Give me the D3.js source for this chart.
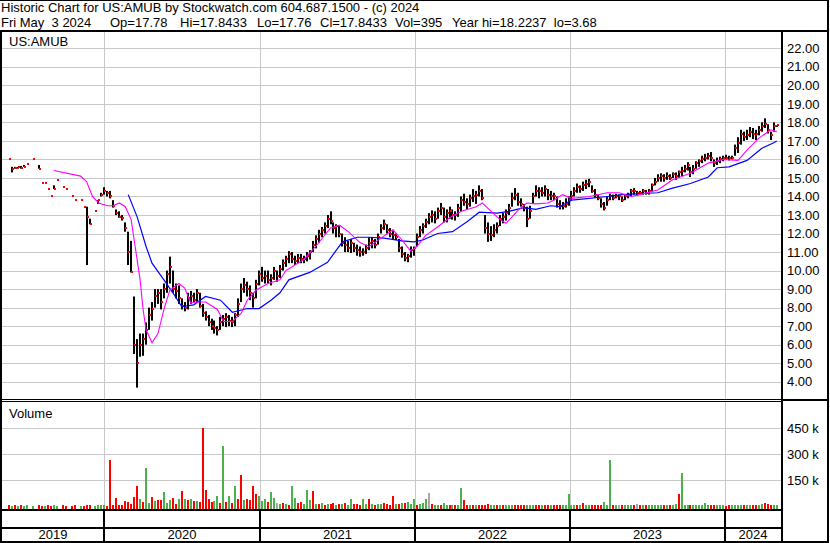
<!DOCTYPE html>
<html>
<head>
<meta charset="utf-8">
<script src="https://cdn.jsdelivr.net/npm/d3@7"></script>
<style>
  body { margin: 0; background: #fff; }
  svg { display: block; font-family: 'Liberation Sans', Arial, sans-serif; font-size: 13px; }
  text { white-space: pre; fill: #000; }
</style>
</head>
<body>
<svg id="chart"></svg>
<script>
// Weekly bars, first bar is the week of 2019-05-08
var firstWeek = '2019-05-08'
var titleLine = 'Historic Chart for US:AMUB by Stockwatch.com 604.687.1500 - (c) 2024'
var quoteFields = ['Fri May  3 2024', 'Op=17.78', 'Hi=17.8433', 'Lo=17.76', 'Cl=17.8433', 'Vol=395', 'Year hi=18.2237  lo=3.68']
var symbol = 'US:AMUB'

var priceTicks = [4, 5, 6, 7, 8, 9, 10, 11, 12, 13, 14, 15, 16, 17, 18, 19, 20, 21, 22]
var volumeTicks = [150, 300, 450]
var years = [2019, 2020, 2021, 2022, 2023, 2024]

var weekHigh = [
  null, null, 16.0, 15.6, 15.6, 15.6, 15.65, 15.7, 15.75, null,
  16.0, null, 15.7, 14.75, 14.75, 14.4, 14.05, 14.6, 14.9, null,
  14.5, 14.4, null, 14.0, 13.8, null, 13.8, 13.45, 13.45, 12.8,
  null, 13.2, 13.8, 14.2, 14.5, 14.3, 14.3, 13.8, 13.3, 13.2,
  13.0, 12.6, 12.1, 11.6, 8.6, 6.3, 6.6, 6.6, 7.2, 8.0,
  8.3, 9.0, 9.0, 9.0, 9.3, 10.0, 10.75, 10.0, 9.3, 9.2,
  8.5, 8.3, 8.8, 8.9, 8.8, 9.0, 8.8, 8.2, 7.8, 7.6,
  7.4, 7.3, 7.0, 7.5, 7.6, 7.7, 7.6, 7.5, 7.7, 8.5,
  9.3, 9.6, 9.4, 9.2, 8.8, 9.5, 10.0, 10.2, 10.0, 10.0,
  9.8, 10.2, 10.0, 10.3, 10.6, 10.8, 11.05, 11.0, 10.8, 10.9,
  10.9, 10.8, 11.0, 11.1, 11.6, 11.9, 12.2, 12.35, 12.6, 13.0,
  13.2, 12.6, 12.5, 12.4, 12.0, 11.8, 11.6, 11.7, 11.5, 11.4,
  11.3, 11.2, 11.4, 11.8, 11.8, 11.7, 12.0, 12.5, 12.75, 12.5,
  12.3, 12.2, 12.0, 11.7, 11.3, 11.0, 10.9, 11.3, 11.3, 12.0,
  12.4, 12.55, 12.8, 13.1, 13.25, 13.2, 13.4, 13.65, 13.4, 13.3,
  13.45, 13.3, 13.2, 13.6, 14.0, 14.15, 13.9, 14.1, 14.4, 14.3,
  14.6, 14.4, 13.0, 12.6, 12.4, 12.5, 12.6, 13.0, 13.1, 13.3,
  13.6, 14.2, 14.45, 14.2, 13.9, 13.6, 13.45, 13.5, 14.2, 14.6,
  14.5, 14.5, 14.6, 14.4, 14.3, 14.2, 14.0, 13.8, 13.7, 13.9,
  14.0, 14.3, 14.5, 14.7, 14.6, 14.8, 14.9, 14.95, 14.6, 14.4,
  14.1, 13.9, 13.7, 14.0, 14.15, 14.1, 14.15, 14.1, 14.0, 14.1,
  14.2, 14.4, 14.45, 14.3, 14.3, 14.4, 14.35, 14.4, 14.7, 15.0,
  15.2, 15.25, 15.2, 15.3, 15.2, 15.3, 15.3, 15.4, 15.6, 15.7,
  15.85, 15.6, 15.7, 15.9, 16.0, 16.2, 16.3, 16.35, 16.4, 16.0,
  16.1, 16.15, 16.2, 16.25, 16.2, 16.2, 16.8, 17.2, 17.6, 17.5,
  17.6, 17.75, 17.7, 17.6, 17.8, 18.0, 18.22, 17.9, 17.5, 18.0,
  17.84
]
var weekLow = [
  null, null, 16.0, 15.3, 15.5, 15.5, 15.5, 15.6, 15.75, null,
  16.0, null, 15.5, 14.75, 14.75, 14.4, 14.05, 14.4, 14.9, null,
  14.5, 14.4, null, 14.0, 13.8, null, 13.8, 13.45, 10.3, 12.5,
  null, 13.2, 13.6, 14.0, 14.1, 14.0, 13.9, 13.4, 13.0, 12.85,
  12.7, 12.1, 10.3, 9.9, 5.5, 3.68, 5.35, 5.4, 6.0, 6.8,
  7.3, 8.0, 8.2, 7.9, 8.5, 8.8, 9.3, 8.8, 8.5, 8.2,
  7.9, 7.8, 7.9, 8.2, 8.3, 8.3, 8.0, 7.5, 7.3, 7.0,
  6.8, 6.6, 6.5, 6.8, 7.0, 6.95, 7.0, 6.95, 7.0, 7.5,
  8.3, 8.8, 8.6, 8.4, 8.0, 8.5, 9.2, 9.4, 9.3, 9.3,
  9.2, 9.5, 9.4, 9.6, 10.0, 10.2, 10.4, 10.4, 10.3, 10.4,
  10.4, 10.4, 10.5, 10.6, 11.0, 11.2, 11.5, 11.8, 12.0, 12.3,
  12.5, 12.0, 11.8, 11.8, 11.3, 11.0, 11.0, 10.95, 11.0, 10.8,
  10.75, 10.8, 10.9, 11.1, 11.2, 11.2, 11.4, 12.0, 12.2, 12.0,
  11.8, 11.7, 11.65, 11.0, 10.7, 10.5, 10.45, 10.7, 10.8, 11.3,
  11.8, 12.0, 12.3, 12.5, 12.6, 12.55, 12.8, 13.0, 12.6, 12.6,
  12.8, 12.75, 12.7, 12.9, 13.2, 13.5, 13.3, 13.45, 13.7, 13.6,
  14.0, 13.8, 12.0, 11.55, 11.6, 11.8, 12.0, 12.4, 12.55, 12.7,
  13.0, 13.45, 13.8, 13.5, 13.45, 13.2, 12.35, 12.8, 13.6, 14.0,
  13.9, 14.0, 14.0, 13.8, 13.8, 13.8, 13.4, 13.3, 13.3, 13.4,
  13.5, 13.8, 14.0, 14.2, 14.2, 14.3, 14.4, 14.5, 14.2, 13.95,
  13.8, 13.4, 13.25, 13.5, 13.8, 13.8, 13.9, 13.8, 13.7, 13.8,
  13.9, 14.0, 14.1, 14.05, 14.1, 14.1, 14.1, 14.1, 14.3, 14.6,
  14.8, 14.8, 14.8, 14.9, 14.9, 15.0, 14.9, 15.0, 15.1, 15.3,
  15.4, 15.05, 15.2, 15.5, 15.6, 15.8, 15.9, 16.0, 15.9, 15.6,
  15.7, 15.8, 15.9, 16.0, 15.95, 16.0, 16.2, 16.35, 16.8, 17.0,
  17.05, 17.2, 17.1, 17.05, 17.3, 17.5, 17.7, 17.4, 17.05, 17.5,
  17.76
]
var weekClose = [
  null, null, 16.0, 15.5, 15.55, 15.6, 15.55, 15.6, 15.75, null,
  16.0, null, 15.5, 14.75, 14.75, 14.4, 14.05, 14.4, 14.9, null,
  14.5, 14.4, null, 14.0, 13.8, null, 13.8, 13.45, 12.9, 12.5,
  null, 13.2, 13.8, 14.1, 14.3, 14.2, 14.0, 13.5, 13.1, 12.9,
  12.85, 12.3, 11.0, 9.9, 6.0, 5.0, 6.0, 6.3, 6.8, 7.6,
  7.9, 8.6, 8.8, 8.3, 9.0, 9.8, 10.2, 9.0, 8.9, 8.5,
  8.1, 8.0, 8.5, 8.6, 8.4, 8.8, 8.1, 7.7, 7.5, 7.2,
  7.0, 6.9, 6.8, 7.2, 7.4, 7.5, 7.3, 7.2, 7.6, 8.2,
  9.0, 9.2, 9.0, 8.8, 8.5, 9.3, 9.8, 9.6, 9.7, 9.5,
  9.6, 10.0, 9.7, 10.1, 10.4, 10.6, 10.9, 10.6, 10.5, 10.7,
  10.6, 10.6, 10.8, 11.0, 11.4, 11.7, 12.0, 12.2, 12.4, 12.8,
  12.7, 12.3, 12.4, 12.0, 11.5, 11.4, 11.2, 11.5, 11.2, 11.1,
  11.0, 11.0, 11.2, 11.5, 11.6, 11.4, 11.8, 12.3, 12.5, 12.2,
  12.0, 11.9, 11.8, 11.2, 10.9, 10.7, 10.8, 11.1, 11.2, 11.8,
  12.2, 12.4, 12.6, 12.9, 13.0, 12.8, 13.2, 13.4, 12.9, 13.1,
  13.2, 13.0, 13.0, 13.4, 13.8, 13.7, 13.6, 13.9, 14.0, 14.1,
  14.3, 13.9, 12.3, 12.0, 11.9, 12.2, 12.4, 12.8, 12.9, 13.1,
  13.4, 13.9, 14.1, 13.7, 13.6, 13.4, 12.8, 13.2, 14.0, 14.3,
  14.3, 14.2, 14.4, 14.1, 14.0, 14.0, 13.6, 13.5, 13.5, 13.6,
  13.8, 14.0, 14.3, 14.5, 14.4, 14.6, 14.7, 14.8, 14.3, 14.1,
  13.9, 13.6, 13.4, 13.8, 14.0, 13.9, 14.0, 14.0, 13.8, 14.0,
  14.1, 14.3, 14.3, 14.2, 14.2, 14.3, 14.2, 14.3, 14.6, 14.8,
  15.0, 15.1, 15.0, 15.1, 15.0, 15.2, 15.1, 15.3, 15.4, 15.5,
  15.7, 15.3, 15.5, 15.8, 15.9, 16.0, 16.1, 16.2, 16.1, 15.8,
  15.9, 16.0, 16.1, 16.1, 16.1, 16.1, 16.6, 16.9, 17.4, 17.2,
  17.3, 17.5, 17.4, 17.4, 17.6, 17.8, 17.9, 17.6, 17.3, 17.8,
  17.84
]
// volume in thousands, with the bar colour side: u = up, d = down, f = unchanged
var weekVolume = [
  0, 0, 5, 4, 6, 3, 5, 4, 5, 0,
  4, 0, 5, 4, 3, 5, 4, 6, 4, 0,
  5, 3, 0, 4, 5, 0, 3, 4, 8, 5,
  0, 4, 5, 6, 5, 4, 270, 6, 50, 8,
  10, 30, 25, 15, 55, 120, 45, 25, 220, 20,
  55, 30, 35, 35, 85, 20, 35, 50, 15, 45,
  90, 40, 35, 45, 30, 30, 25, 450, 95, 40,
  25, 30, 60, 20, 350, 25, 60, 20, 120, 45,
  180, 35, 40, 35, 115, 70, 60, 30, 40, 25,
  80, 50, 20, 15, 20, 15, 10, 120, 50, 20,
  25, 15, 95, 35, 90, 15, 12, 18, 10, 15,
  12, 20, 10, 15, 12, 18, 10, 45, 12, 15,
  10, 40, 12, 40, 15, 10, 12, 15, 18, 12,
  10, 60, 12, 15, 20, 18, 25, 12, 40, 10,
  15, 20, 40, 75, 12, 8, 10, 8, 20, 6,
  8, 5, 6, 10, 105, 35, 8, 6, 5, 7,
  6, 8, 10, 12, 8, 6, 5, 7, 6, 5,
  6, 8, 5, 6, 7, 5, 8, 10, 6, 5,
  6, 5, 8, 6, 5, 7, 6, 5, 6, 8,
  70, 6, 5, 8, 10, 20, 6, 5, 7, 6,
  5, 8, 25, 10, 265, 6, 5, 7, 5, 6,
  5, 7, 6, 15, 6, 5, 8, 6, 5, 7,
  6, 5, 7, 6, 5, 8, 15, 70, 190, 6,
  5, 7, 6, 5, 8, 6, 20, 5, 6, 7,
  5, 6, 5, 4, 6, 5, 7, 8, 6, 5,
  6, 5, 7, 6, 8, 15, 20, 15, 8, 6,
  5
]
var weekVolumeSide = [
  'ffdududuuf', 'ufddudduuf', 'ddfddfuddd', 'fuuuuddddd', 'dddddduduu',
  'dudduuuddu', 'dudududddd', 'duudududud', 'dudddduuud', 'uufududuud',
  'duuudududu', 'ddududuudd', 'duududuudd', 'ddududuuud', 'uuufduuduu',
  'duduuddudu', 'dddduududu', 'uudddduuud', 'dudduddduu', 'uuududuudd',
  'dduuudufdu', 'uudfduduuu', 'uududuuduu', 'uduuuuuudd', 'uuudduuuud',
  'uudduudddu', 'u'
].join('')

// moving averages as drawn (week index, value)
var fastMaWeek = [17, 26, 28, 30, 32, 35, 37, 39, 41, 43, 44, 46, 47, 48, 50, 52, 54, 56, 59, 61,
  63, 65, 68, 72, 74, 77, 80, 82, 85, 89, 93, 95, 101, 105, 110, 113, 116, 120, 123, 127,
  131, 134, 137, 139, 142, 146, 150, 154, 159, 161, 164, 167, 169, 173, 176, 179, 183, 185, 188, 191,
  197, 203, 207, 211, 214, 220, 225, 231, 237, 242, 247, 250, 254, 258, 260]
var fastMaValue = [15.4, 15.1, 14.8, 14.0, 13.65, 13.5, 13.5, 13.65, 13.45, 12.75, 11.65, 9.5, 7.9, 6.8, 6.1, 6.6, 7.9, 8.95, 9.3, 9.05,
  8.25, 8.3, 8.3, 7.9, 7.25, 7.25, 7.7, 8.4, 8.95, 9.3, 9.5, 10.0, 10.6, 11.3, 12.3, 12.45, 12.1, 11.5, 11.3, 11.75,
  12.2, 11.65, 11.05, 11.3, 11.9, 12.35, 12.85, 13.2, 13.45, 13.65, 13.2, 12.75, 12.55, 13.25, 13.65, 13.6, 13.65, 13.8, 14.1, 13.9,
  14.0, 14.2, 14.2, 14.0, 14.1, 14.35, 14.9, 15.25, 15.8, 16.0, 15.95, 16.5, 17.15, 17.6, 17.5]
var slowMaWeek = [42, 45, 48, 50, 54, 57, 60, 64, 68, 73, 77, 82, 86, 90, 93, 96, 103, 109, 114, 119,
  123, 128, 134, 138, 141, 146, 151, 156, 160, 166, 170, 175, 179, 184, 187, 191, 197, 203, 208, 214,
  220, 225, 231, 237, 240, 244, 250, 255, 259, 260]
var slowMaValue = [14.1, 12.9, 11.3, 10.4, 9.5, 8.8, 8.05, 8.15, 8.6, 8.4, 7.75, 7.95, 7.95, 8.4, 8.8, 9.5, 9.9, 10.45, 11.55, 11.8,
  11.8, 11.75, 11.6, 11.55, 11.65, 12.0, 12.1, 12.65, 13.15, 13.1, 13.2, 13.4, 13.3, 13.5, 13.45, 13.8, 13.9, 14.0, 14.1, 14.15,
  14.2, 14.45, 14.7, 15.05, 15.55, 15.6, 15.95, 16.6, 16.9, 17.0]

;(function () {
  var WIDTH = 830
  var HEIGHT = 543
  var LEFT = 2
  var RIGHT = 781
  var PRICE_TOP = 32
  var PRICE_BOTTOM = 399
  var VOL_TOP = 402
  var VOL_BOTTOM = 509
  var GRID = '#c8c8c8'
  var sideColor = { u: '#4cb04c', d: '#ff0000', f: '#a8a8a8' }
  // left edges of the quote fields, as laid out in the header
  var quoteX = [1, 110, 180, 257, 320, 395, 452]

  var parse = d3.timeParse('%Y-%m-%d')
  var start = parse(firstWeek)
  function weekDate (i) { return d3.timeWeek.offset(start, i) }

  var x = d3.scaleTime()
    .domain([parse('2019-05-05'), parse('2024-05-11')])
    .range([LEFT, RIGHT])
  var yPrice = d3.scaleLinear().domain([4, 22]).range([381.7, 48.3])
  var yVol = d3.scaleLinear().domain([0, 450]).range([506.3, 428.3])

  var svg = d3.select('#chart')
    .attr('width', WIDTH)
    .attr('height', HEIGHT)

  svg.append('rect').attr('width', WIDTH).attr('height', HEIGHT).attr('fill', '#fff')

  // Header
  svg.append('text').attr('x', 1).attr('y', 12).text(titleLine)
  svg.append('g').selectAll('text')
    .data(quoteFields)
    .enter().append('text')
    .attr('x', function (d, i) { return quoteX[i] })
    .attr('y', 26.5)
    .text(function (d) { return d })

  // Year boundaries
  var bounds = years.slice(1).map(function (y) { return Math.round(x(new Date(y, 0, 1))) })
  var edges = [LEFT].concat(bounds).concat([RIGHT])

  // Grid
  var grid = svg.append('g').attr('stroke', GRID).attr('stroke-width', 1)
  grid.selectAll('.hp')
    .data(priceTicks)
    .enter().append('line')
    .attr('x1', LEFT).attr('x2', RIGHT)
    .attr('y1', function (d) { return Math.round(yPrice(d)) + 0.5 })
    .attr('y2', function (d) { return Math.round(yPrice(d)) + 0.5 })
  grid.selectAll('.hv')
    .data(volumeTicks)
    .enter().append('line')
    .attr('x1', LEFT).attr('x2', RIGHT)
    .attr('y1', function (d) { return Math.round(yVol(d)) + 0.5 })
    .attr('y2', function (d) { return Math.round(yVol(d)) + 0.5 })
  grid.selectAll('.vp')
    .data(bounds)
    .enter().append('line')
    .attr('x1', function (d) { return d + 0.5 }).attr('x2', function (d) { return d + 0.5 })
    .attr('y1', PRICE_TOP).attr('y2', PRICE_BOTTOM)
  grid.selectAll('.vv')
    .data(bounds)
    .enter().append('line')
    .attr('x1', function (d) { return d + 0.5 }).attr('x2', function (d) { return d + 0.5 })
    .attr('y1', VOL_TOP).attr('y2', VOL_BOTTOM)

  // Volume bars
  var volIdx = d3.range(weekVolume.length).filter(function (i) { return weekVolume[i] > 0 })
  svg.append('g').selectAll('rect')
    .data(volIdx)
    .enter().append('rect')
    .attr('x', function (i) { return Math.round(x(weekDate(i))) - 1 })
    .attr('width', 2)
    .attr('y', function (i) { return Math.min(Math.round(yVol(weekVolume[i])), VOL_BOTTOM - 1) })
    .attr('height', function (i) { return VOL_BOTTOM - Math.min(Math.round(yVol(weekVolume[i])), VOL_BOTTOM - 1) })
    .attr('fill', function (i) { return sideColor[weekVolumeSide[i]] })

  // Price bars
  var barIdx = d3.range(weekHigh.length).filter(function (i) { return weekHigh[i] != null })
  var bars = svg.append('g')
  bars.selectAll('rect.hl')
    .data(barIdx.filter(function (i) { return weekHigh[i] > weekLow[i] }))
    .enter().append('rect')
    .attr('class', 'hl')
    .attr('x', function (i) { return Math.round(x(weekDate(i))) - 1 })
    .attr('width', 2)
    .attr('y', function (i) { return yPrice(weekHigh[i]) })
    .attr('height', function (i) { return yPrice(weekLow[i]) - yPrice(weekHigh[i]) })
    .attr('fill', '#000')
  bars.selectAll('rect.cl')
    .data(barIdx)
    .enter().append('rect')
    .attr('class', 'cl')
    .attr('x', function (i) { return Math.round(x(weekDate(i))) })
    .attr('width', 2)
    .attr('y', function (i) { return Math.round(yPrice(weekClose[i])) - 1 })
    .attr('height', 2)
    .attr('fill', '#ff0000')

  // Moving averages
  var line = d3.line()
    .x(function (d) { return x(weekDate(d[0])) })
    .y(function (d) { return yPrice(d[1]) })
  svg.append('path')
    .attr('d', line(d3.zip(slowMaWeek, slowMaValue)))
    .attr('fill', 'none').attr('stroke', '#0000ff').attr('stroke-width', 1.2)
  svg.append('path')
    .attr('d', line(d3.zip(fastMaWeek, fastMaValue)))
    .attr('fill', 'none').attr('stroke', '#ff00ff').attr('stroke-width', 1.1)

  // Panel labels
  svg.append('text').attr('x', 9).attr('y', 46).text(symbol)
  svg.append('text').attr('x', 9).attr('y', 418).text('Volume')

  // Right axes
  var priceAxis = d3.axisRight(yPrice)
    .tickValues(priceTicks)
    .tickFormat(d3.format('.2f'))
    .tickSize(0)
    .tickPadding(6)
  svg.append('g')
    .attr('transform', 'translate(' + RIGHT + ',0)')
    .call(priceAxis)
    .call(function (g) { g.select('.domain').remove() })

  var volAxis = d3.axisRight(yVol)
    .tickValues(volumeTicks)
    .tickFormat(function (d) { return d + ' k' })
    .tickSize(0)
    .tickPadding(6)
  svg.append('g')
    .attr('transform', 'translate(' + RIGHT + ',0)')
    .call(volAxis)
    .call(function (g) { g.select('.domain').remove() })

  svg.selectAll('.tick text')
    .attr('fill', '#000')
    .style('font-size', '13px')
    .style('font-family', "'Liberation Sans', Arial, sans-serif")

  // Year labels
  svg.append('g').selectAll('text')
    .data(years)
    .enter().append('text')
    .attr('x', function (d, i) { return (edges[i] + edges[i + 1]) / 2 })
    .attr('y', 539)
    .attr('text-anchor', 'middle')
    .text(function (d) { return d })

  // Frame
  var frame = svg.append('g').attr('fill', '#000')
  function box (x0, y0, w, h) {
    frame.append('rect').attr('x', x0).attr('y', y0).attr('width', w).attr('height', h)
  }
  box(0, 0, WIDTH - 1, 1)
  box(0, 30, WIDTH - 1, 2)
  box(0, 30, 2, 513)
  box(827, 0, 2, 543)
  box(RIGHT, 30, 2, 513)
  box(0, PRICE_BOTTOM, RIGHT, 1)
  box(0, 401, RIGHT, 1)
  box(RIGHT, 399, 48, 2)
  box(0, VOL_BOTTOM, RIGHT, 2)
  box(0, 527, RIGHT, 2)
  box(0, 541, WIDTH - 1, 2)
  bounds.forEach(function (b) { box(b - 1, VOL_BOTTOM, 2, 34) })
})()
</script>
</body>
</html>
